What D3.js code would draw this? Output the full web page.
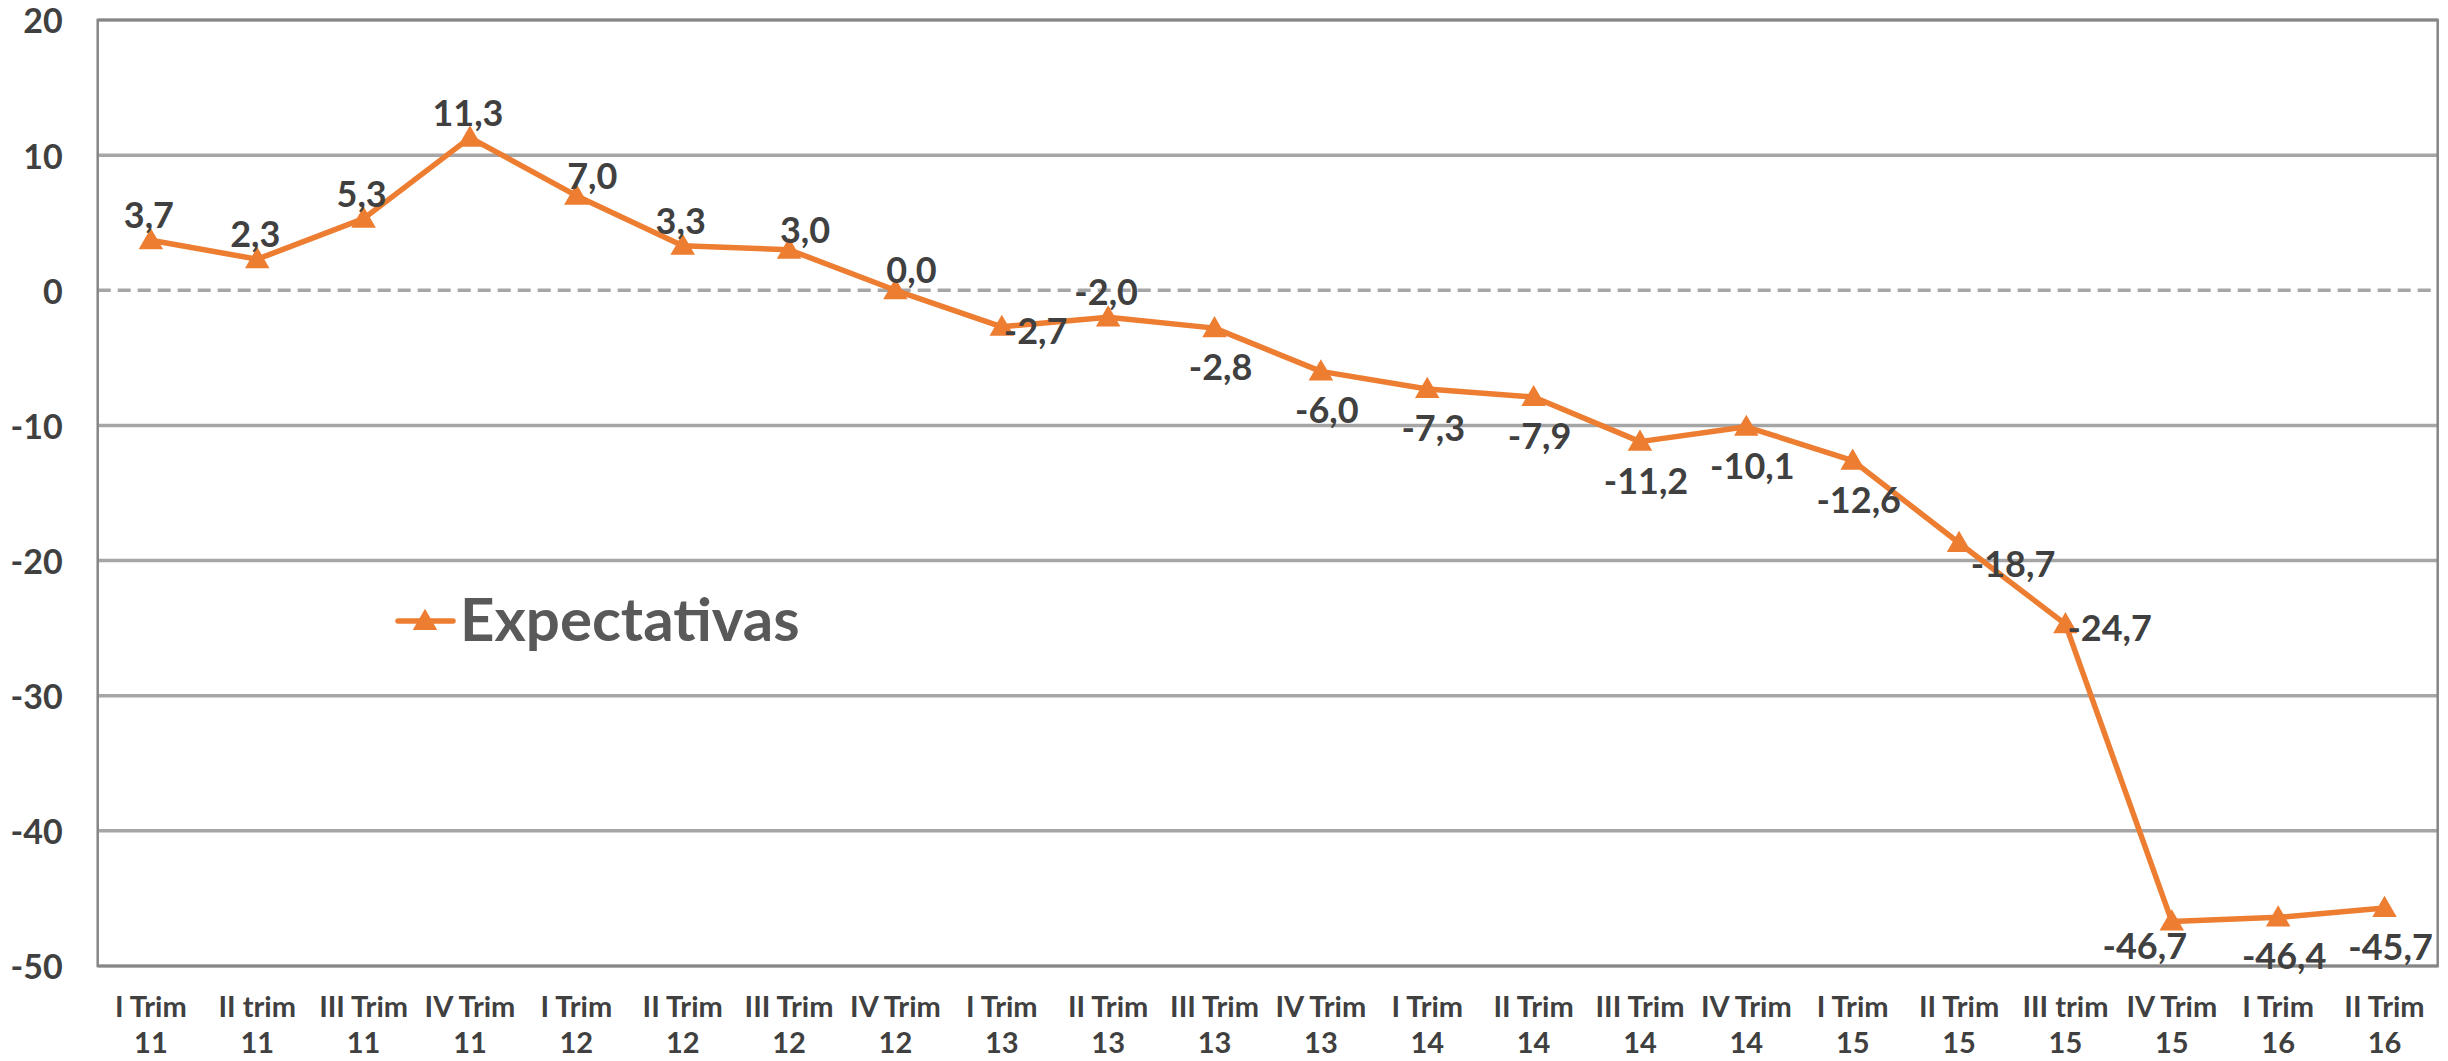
<!DOCTYPE html>
<html>
<head>
<meta charset="utf-8">
<script src="https://cdn.jsdelivr.net/npm/d3@7"></script>
<style>
  body { margin: 0; background: #fff; }
  svg { display: block; }
</style>
</head>
<body>
<script>
// data
const categories = ["I Trim 11", "II trim 11", "III Trim 11", "IV Trim 11",
    "I Trim 12", "II Trim 12", "III Trim 12", "IV Trim 12",
    "I Trim 13", "II Trim 13", "III Trim 13", "IV Trim 13",
    "I Trim 14", "II Trim 14", "III Trim 14", "IV Trim 14",
    "I Trim 15", "II Trim 15", "III trim 15", "IV Trim 15",
    "I Trim 16", "II Trim 16"];
const expectativas = [3.7, 2.3, 5.3, 11.3, 7.0, 3.3, 3.0, 0.0, -2.7, -2.0, -2.8, -6.0,
    -7.3, -7.9, -11.2, -10.1, -12.6, -18.7, -24.7, -46.7, -46.4, -45.7];
const seriesName = "Expectativas";
const yTicks = [20, 10, 0, -10, -20, -30, -40, -50];
// where each data label sits relative to its point
const labelPlacement = ["t", "t", "t", "t", "tr", "t", "tr", "tr", "r", "t", "b", "b",
    "b", "b", "b", "b", "b", "br", "r", "bl", "b", "b"];

const width = 2448, height = 1061;
const margin = {top: 20, right: 10.3, bottom: 95, left: 97.7};
const ORANGE = "#ED7D31";
const FONT = "Lato, 'Open Sans', sans-serif";

const locale = d3.formatLocale({decimal: ",", thousands: ".", grouping: [3], currency: ["", ""], minus: "-"});
const fmt = locale.format(".1f");

const svg = d3.select("body").append("svg")
    .attr("width", width)
    .attr("height", height);

const x = d3.scaleBand()
    .domain(categories)
    .range([margin.left, width - margin.right]);

const y = d3.scaleLinear()
    .domain([-50, 20])
    .range([height - margin.bottom, margin.top]);

const cx = function(i) { return x(categories[i]) + x.bandwidth() / 2; };

// gridlines
svg.append("g")
    .selectAll("line")
    .data(yTicks.filter(function(t) { return t !== 0; }))
    .enter().append("line")
    .attr("x1", margin.left)
    .attr("x2", width - margin.right)
    .attr("y1", function(d) { return y(d); })
    .attr("y2", function(d) { return y(d); })
    .attr("stroke", "#a6a6a6")
    .attr("stroke-width", 3.5);

// zero line dashed
svg.append("line")
    .attr("x1", margin.left)
    .attr("x2", width - margin.right)
    .attr("y1", y(0))
    .attr("y2", y(0))
    .attr("stroke", "#a6a6a6")
    .attr("stroke-width", 3.5)
    .attr("stroke-dasharray", "13,7");

// plot border
svg.append("rect")
    .attr("x", margin.left)
    .attr("y", margin.top)
    .attr("width", width - margin.right - margin.left)
    .attr("height", height - margin.bottom - margin.top)
    .attr("fill", "none")
    .attr("stroke", "#868686")
    .attr("stroke-width", 2.5);

// y axis labels
const yAxis = svg.append("g")
    .attr("transform", "translate(" + (margin.left - 35) + ",0)")
    .call(d3.axisLeft(y).tickValues(yTicks).tickSize(0).tickPadding(0)
        .tickFormat(locale.format("d")));
yAxis.select(".domain").remove();
yAxis.selectAll("text")
    .attr("dy", "0.38em")
    .style("font-family", FONT)
    .style("font-weight", "bold")
    .style("font-size", "34px")
    .style("fill", "#404040");

// x axis labels, two lines each
const xAxis = svg.append("g")
    .attr("transform", "translate(0," + (height - margin.bottom) + ")")
    .call(d3.axisBottom(x).tickSize(0));
xAxis.select(".domain").remove();
xAxis.selectAll("text").each(function(d) {
    const t = d3.select(this);
    const k = d.lastIndexOf(" ");
    t.text(null)
        .attr("y", 0)
        .attr("dy", null)
        .style("font-family", FONT)
        .style("font-weight", "bold")
        .style("font-size", "29px")
        .style("fill", "#404040");
    t.append("tspan").attr("x", 0).attr("y", 51).text(d.slice(0, k));
    t.append("tspan").attr("x", 0).attr("y", 87).text(d.slice(k + 1));
});

// series line
const line = d3.line()
    .x(function(d, i) { return cx(i); })
    .y(function(d) { return y(d); });

svg.append("path")
    .datum(expectativas)
    .attr("d", line)
    .attr("fill", "none")
    .attr("stroke", ORANGE)
    .attr("stroke-width", 5.5)
    .attr("stroke-linejoin", "round");

const tri = d3.symbol().type(d3.symbolTriangle).size(260);

svg.append("g")
    .selectAll("path")
    .data(expectativas)
    .enter().append("path")
    .attr("d", tri)
    .attr("transform", function(d, i) { return "translate(" + cx(i) + "," + (y(d) + 2) + ")"; })
    .attr("fill", ORANGE);

// data labels
const offsets = {
    t:  {dx: -2, dy: -25, anchor: "middle"},
    tr: {dx: 16, dy: -20, anchor: "middle"},
    r:  {dx: 2, dy: 4, anchor: "start"},
    br: {dx: 54, dy: 21, anchor: "middle"},
    b:  {dx: 6, dy: 39, anchor: "middle"},
    bl: {dx: -27, dy: 25, anchor: "middle"}
};

svg.append("g")
    .selectAll("text")
    .data(expectativas)
    .enter().append("text")
    .attr("x", function(d, i) { return cx(i) + offsets[labelPlacement[i]].dx; })
    .attr("y", function(d, i) { return y(d) + offsets[labelPlacement[i]].dy; })
    .attr("dy", "0.36em")
    .attr("text-anchor", function(d, i) { return offsets[labelPlacement[i]].anchor; })
    .style("font-family", FONT)
    .style("font-weight", "bold")
    .style("font-size", "36px")
    .style("fill", "#404040")
    .text(function(d) { return fmt(d); });

// legend
const legend = svg.append("g").attr("transform", "translate(398,621)");
legend.append("line")
    .attr("x1", 0).attr("x2", 55)
    .attr("y1", 0).attr("y2", 0)
    .attr("stroke", ORANGE)
    .attr("stroke-width", 5.5)
    .attr("stroke-linecap", "round");
legend.append("path")
    .attr("d", tri)
    .attr("transform", "translate(27,2)")
    .attr("fill", ORANGE);
legend.append("text")
    .attr("x", 62)
    .attr("y", 0)
    .attr("dy", "0.33em")
    .style("font-family", FONT)
    .style("font-weight", "bold")
    .style("font-size", "60px")
    .style("fill", "#595959")
    .text(seriesName);
</script>
</body>
</html>
